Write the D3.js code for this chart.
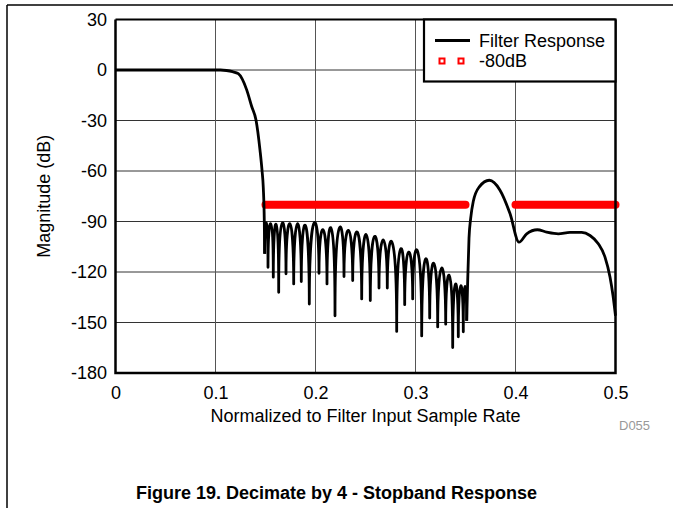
<!DOCTYPE html>
<html>
<head>
<meta charset="utf-8">
<script src="https://cdn.jsdelivr.net/npm/d3@7"></script>
<style>
  body { margin: 0; background: #fff; }
  svg { display: block; font-family: "Liberation Sans", Arial, sans-serif; }
</style>
</head>
<body>
<svg id="chart" width="673" height="508"></svg>
<script>
// axis ticks
const xTicks = [0, 0.1, 0.2, 0.3, 0.4, 0.5];
const yTicks = [-180, -150, -120, -90, -60, -30, 0, 30];

// passband + transition band
const passX  = [0, 0.105, 0.111, 0.117, 0.1228, 0.1312, 0.1362, 0.1405, 0.1445, 0.1465, 0.1478, 0.1488, 0.1492];
const passDb = [0, 0, -0.3, -1, -2.2, -11.8, -21.7, -29.7, -47.6, -59.5, -70, -90, -109.2];

// stopband: nulls and the lobe peaks between them
const nullX  = [0.1492, 0.1525, 0.1578, 0.1632, 0.1705, 0.1782, 0.1858, 0.1938, 0.2035, 0.2115,
                0.2195, 0.2285, 0.2372, 0.2462, 0.2548, 0.2635, 0.2718, 0.2812, 0.2892, 0.2972,
                0.3062, 0.3142, 0.3222, 0.3302, 0.3372, 0.3428, 0.3478, 0.3512];
const nullDb = [-109.2, -117.2, -123.1, -132.1, -121.1, -127.1, -125.7, -139, -120.8, -127.1,
                -146, -122.7, -125.1, -136, -137, -129.5, -129.5, -155.3, -139.4, -136,
                -158, -147.4, -152.6, -151, -164.9, -158.5, -155.5, -149];
const lobeDb = [-90.9, -91.3, -91.7, -90.9, -91.3, -91.3, -92.3, -90.9, -94.9, -93.9,
                -93.7, -95.3, -96.3, -97.7, -98.9, -100.9, -102.3, -106.3, -108.2, -107.2,
                -112.2, -114.8, -117.6, -122.1, -127.1, -128.1, -128.7];

// image lobe and the end of the band
const tailX  = [0.3512, 0.3522, 0.3535, 0.3552, 0.3578, 0.3638, 0.3738, 0.3845, 0.3945, 0.4035,
                0.4112, 0.4218, 0.4312, 0.4428, 0.4545, 0.4662, 0.4745, 0.4828, 0.4895, 0.4945,
                0.4975, 0.5];
const tailDb = [-149, -125, -100, -88, -78, -69.4, -65.5, -71.4, -85.3, -102.3,
                -97.3, -94.9, -96.3, -97.3, -96.5, -96.5, -98.3, -103.2, -111.2, -123,
                -134, -146];

// -80dB limit segments
const limitStart = [0.15, 0.4];
const limitEnd   = [0.35, 0.5];
const limitDb    = -80;

const svg = d3.select("#chart");
const plotL = 115.5, plotR = 615.5, plotT = 19.5, plotB = 373;

const x = d3.scaleLinear().domain([0, 0.5]).range([plotL, plotR]);
const y = d3.scaleLinear().domain([-180, 30]).range([plotB, plotT]);

// page frame
svg.append("line").attr("x1", 7).attr("x2", 673).attr("y1", 5).attr("y2", 5)
  .attr("stroke", "#000").attr("stroke-width", 1.5);
svg.append("line").attr("x1", 7).attr("x2", 7).attr("y1", 5).attr("y2", 508)
  .attr("stroke", "#000").attr("stroke-width", 1.5);

// grid
svg.append("g").selectAll("line")
  .data(yTicks.filter(d => d > -180 && d < 30))
  .enter().append("line")
  .attr("x1", plotL).attr("x2", plotR)
  .attr("y1", d => y(d)).attr("y2", d => y(d))
  .attr("stroke", "#333").attr("stroke-width", 1);
svg.append("g").selectAll("line")
  .data(xTicks.filter(d => d > 0 && d < 0.5))
  .enter().append("line")
  .attr("x1", d => x(d)).attr("x2", d => x(d))
  .attr("y1", plotT).attr("y2", plotB)
  .attr("stroke", "#555").attr("stroke-width", 1);

// axes (labels only), plain hyphen for negatives like the original
const yAxis = svg.append("g").attr("transform", `translate(${plotL},0)`)
  .call(d3.axisLeft(y).tickValues(yTicks).tickSize(0).tickPadding(8.5)
    .tickFormat(d => `${d}`));
const xAxis = svg.append("g").attr("transform", `translate(0,${plotB})`)
  .call(d3.axisBottom(x).tickValues(xTicks).tickSize(0).tickPadding(13)
    .tickFormat(d => d === 0 ? "0" : d.toFixed(1)));
[yAxis, xAxis].forEach(g => {
  g.select(".domain").remove();
  g.selectAll("text").attr("font-size", 18).attr("fill", "#000")
    .attr("font-family", "'Liberation Sans', Arial, sans-serif");
});

// -80dB limit
svg.append("g").selectAll("line")
  .data(limitStart.map((s, i) => [s, limitEnd[i]]))
  .enter().append("line")
  .attr("x1", d => x(d[0])).attr("x2", d => x(d[1]))
  .attr("y1", y(limitDb)).attr("y2", y(limitDb))
  .attr("stroke", "#ff0000").attr("stroke-width", 8).attr("stroke-linecap", "round");

// filter response
const curve = d3.line().x(d => x(d[0])).y(d => y(d[1])).curve(d3.curveMonotoneX);
const lineStyle = p => p.attr("fill", "none").attr("stroke", "#000")
  .attr("stroke-width", 2.8).attr("stroke-linejoin", "round");

svg.append("path").attr("d", curve(passX.map((v, i) => [v, passDb[i]]))).call(lineStyle);

// stopband lobes: arch from null to null, peak height
const p = d3.path();
p.moveTo(x(nullX[0]), y(nullDb[0]));
for (let i = 0; i < lobeDb.length; i++) {
  const x0 = x(nullX[i]), y0 = y(nullDb[i]);
  const x1 = x(nullX[i + 1]), y1 = y(nullDb[i + 1]);
  const yc = (8 * y(lobeDb[i]) - y0 - y1) / 6;
  p.bezierCurveTo(x0, yc, x1, yc, x1, y1);
}
svg.append("path").attr("d", p.toString()).call(lineStyle);

svg.append("path").attr("d", curve(tailX.map((v, i) => [v, tailDb[i]]))).call(lineStyle);

// plot frame
svg.append("line").attr("x1", plotL).attr("x2", plotR).attr("y1", plotT).attr("y2", plotT)
  .attr("stroke", "#000").attr("stroke-width", 2);
svg.append("path")
  .attr("d", `M${plotL},${plotT}V${plotB}H${plotR}V${plotT}`)
  .attr("fill", "none").attr("stroke", "#000").attr("stroke-width", 2.5);

// legend
const lg = svg.append("g");
lg.append("rect").attr("x", 424).attr("y", plotT).attr("width", plotR - 424).attr("height", 62)
  .attr("fill", "#fff").attr("stroke", "#000").attr("stroke-width", 2.2);
lg.append("line").attr("x1", 435).attr("x2", 470).attr("y1", 40.5).attr("y2", 40.5)
  .attr("stroke", "#000").attr("stroke-width", 2.8);
lg.append("text").attr("x", 479).attr("y", 46.5).attr("font-size", 18).text("Filter Response");
lg.selectAll("rect.mk").data([442, 461]).enter().append("rect").attr("class", "mk")
  .attr("x", d => d - 2.5).attr("y", 58.5).attr("width", 5).attr("height", 5)
  .attr("fill", "#fff").attr("stroke", "#ff0000").attr("stroke-width", 2);
lg.append("text").attr("x", 479).attr("y", 67).attr("font-size", 18).text("-80dB");

// titles
svg.append("text").attr("x", 365.5).attr("y", 421.5).attr("text-anchor", "middle")
  .attr("font-size", 18).text("Normalized to Filter Input Sample Rate");
svg.append("text").attr("transform", `translate(49.5,${(plotT + plotB) / 2}) rotate(-90)`)
  .attr("text-anchor", "middle").attr("font-size", 18).text("Magnitude (dB)");
svg.append("text").attr("x", 619).attr("y", 429.5).attr("font-size", 13)
  .attr("fill", "#999").text("D055");
svg.append("text").attr("x", 336.5).attr("y", 499).attr("text-anchor", "middle")
  .attr("font-size", 18).attr("font-weight", "bold")
  .text("Figure 19. Decimate by 4 - Stopband Response");
</script>
</body>
</html>
